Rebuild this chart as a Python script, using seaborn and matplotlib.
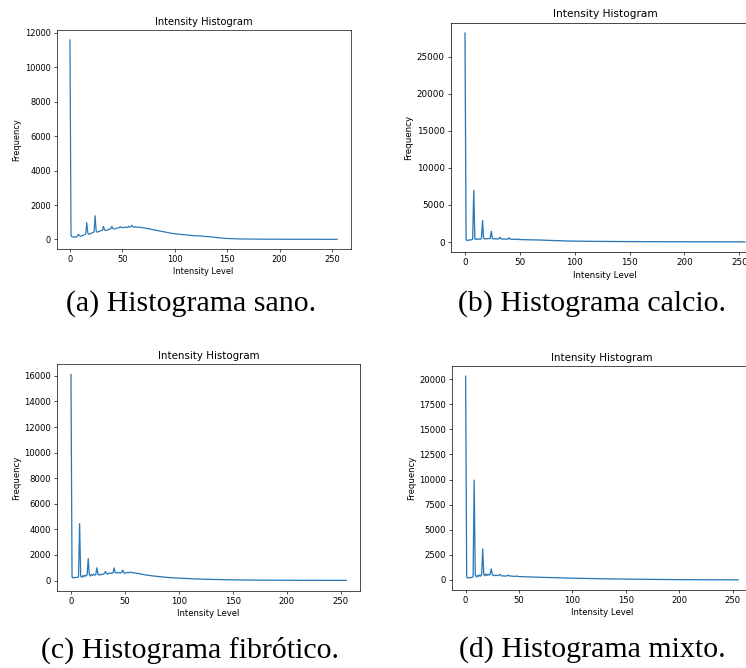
import matplotlib
matplotlib.use("Agg")
import matplotlib.pyplot as plt
import seaborn as sns
import pandas as pd

# niveles de intensidad (0-63 uno a uno, despues cada 5)
niveles = list(range(64)) + list(range(65, 255, 5)) + [255]

# Histograma sano
sano = [11580, 220, 160, 150, 130, 150, 140, 180, 300, 220, 190, 200, 230, 250, 280, 320,
        980, 380, 300, 330, 360, 380, 400, 450, 1380, 480, 420, 450, 470, 500, 520, 540,
        760, 560, 520, 540, 560, 580, 600, 620, 760, 640, 600, 620, 640, 660, 670, 690,
        740, 690, 700, 680, 710, 700, 720, 690, 760, 720, 740, 830, 730, 710, 740, 700,
        720, 680, 620, 560, 500, 440, 380, 330, 300, 270, 240, 215, 200, 170, 150, 110,
        80, 60, 45, 35, 30, 25, 22, 20, 18, 16, 15, 14, 13, 12, 12, 11, 10, 10, 10, 9,
        9, 8, 10]

# Histograma calcio
calcio = [28150, 350, 200, 250, 300, 280, 320, 400, 6950, 450, 350, 420, 380, 450, 400, 480,
          2900, 500, 420, 460, 440, 480, 460, 520, 1450, 500, 420, 450, 430, 440, 420, 450,
          650, 430, 400, 420, 410, 400, 390, 420, 580, 400, 380, 390, 370, 380, 360, 370,
          420, 350, 340, 335, 330, 325, 330, 320, 315, 320, 310, 305, 310, 300, 295, 300,
          290, 270, 240, 210, 190, 160, 145, 130, 120, 110, 100, 95, 90, 85, 80, 75,
          70, 65, 60, 58, 55, 52, 50, 48, 46, 45, 44, 42, 40, 39, 38, 37, 36, 35, 34, 33,
          32, 31, 30]

# Histograma fibrotico
fibrotico = [16100, 300, 200, 250, 220, 240, 250, 300, 4450, 350, 250, 380, 300, 420, 350, 450,
             1720, 450, 350, 480, 400, 500, 420, 480, 1000, 500, 420, 480, 450, 500, 480, 560,
             700, 560, 500, 580, 540, 600, 560, 620, 980, 620, 580, 640, 600, 620, 580, 640,
             820, 620, 560, 600, 620, 640, 600, 650, 660, 620, 600, 580, 600, 560, 540, 560,
             500, 430, 370, 320, 280, 240, 210, 190, 170, 150, 130, 115, 100, 90, 80, 70,
             62, 55, 48, 42, 38, 34, 30, 28, 26, 24, 22, 20, 19, 18, 17, 16, 15, 14, 13, 12,
             12, 11, 10]

# Histograma mixto
mixto = [20300, 300, 200, 250, 220, 260, 240, 350, 9950, 500, 300, 450, 350, 500, 380, 550,
         3100, 550, 420, 600, 450, 580, 480, 600, 1100, 550, 420, 480, 450, 470, 430, 480,
         560, 450, 400, 420, 390, 410, 400, 420, 480, 420, 380, 400, 370, 380, 360, 370,
         400, 350, 340, 345, 330, 335, 320, 325, 315, 320, 305, 310, 300, 305, 295, 290,
         285, 270, 255, 240, 225, 210, 195, 180, 170, 160, 150, 140, 130, 120, 112, 105,
         98, 90, 84, 78, 72, 66, 60, 55, 50, 46, 42, 38, 35, 32, 30, 28, 26, 24, 22, 21,
         20, 19, 18]

series = [sano, calcio, fibrotico, mixto]
captions = ["(a) Histograma sano.", "(b) Histograma calcio.",
            "(c) Histograma fibrótico.", "(d) Histograma mixto."]

W, H = 746, 668
# cajas de ejes en pixeles: izquierda, derecha, arriba, abajo, escala
boxes = [(56.6, 350.6, 30.0, 249.3, 0.593),
         (451.0, 758.8, 22.7, 252.3, 0.630),
         (57.2, 360.0, 364.3, 590.7, 0.612),
         (452.0, 751.7, 366.0, 590.0, 0.612)]
cap_pos = [(191, 304), (592, 304), (190, 650), (592, 650)]

fig = plt.figure(figsize=(W / 100, H / 100), dpi=100)

for vals, (l, r, t, b, s) in zip(series, boxes):
    ax = fig.add_axes([l / W, 1 - b / H, (r - l) / W, (b - t) / H])
    df = pd.DataFrame({"nivel": niveles, "freq": vals})
    sns.lineplot(data=df, x="nivel", y="freq", ax=ax, color="#2a78b6", linewidth=1.5 * s)
    ax.set_title("Intensity Histogram", fontsize=12 * s, pad=6 * s)
    ax.set_xlabel("Intensity Level", fontsize=10 * s, labelpad=4 * s)
    ax.set_ylabel("Frequency", fontsize=10 * s, labelpad=4 * s)
    ax.set_xticks([0, 50, 100, 150, 200, 250])
    ax.tick_params(labelsize=10 * s, length=3.5 * s, width=0.8 * s, pad=3.5 * s)
    for sp in ax.spines.values():
        sp.set_linewidth(0.8 * s)

for txt, (x, y) in zip(captions, cap_pos):
    fig.text(x / W, 1 - y / H, txt, ha="center", va="center",
             fontsize=21.5, family="Liberation Serif")

fig.savefig("out.png", dpi=100)
